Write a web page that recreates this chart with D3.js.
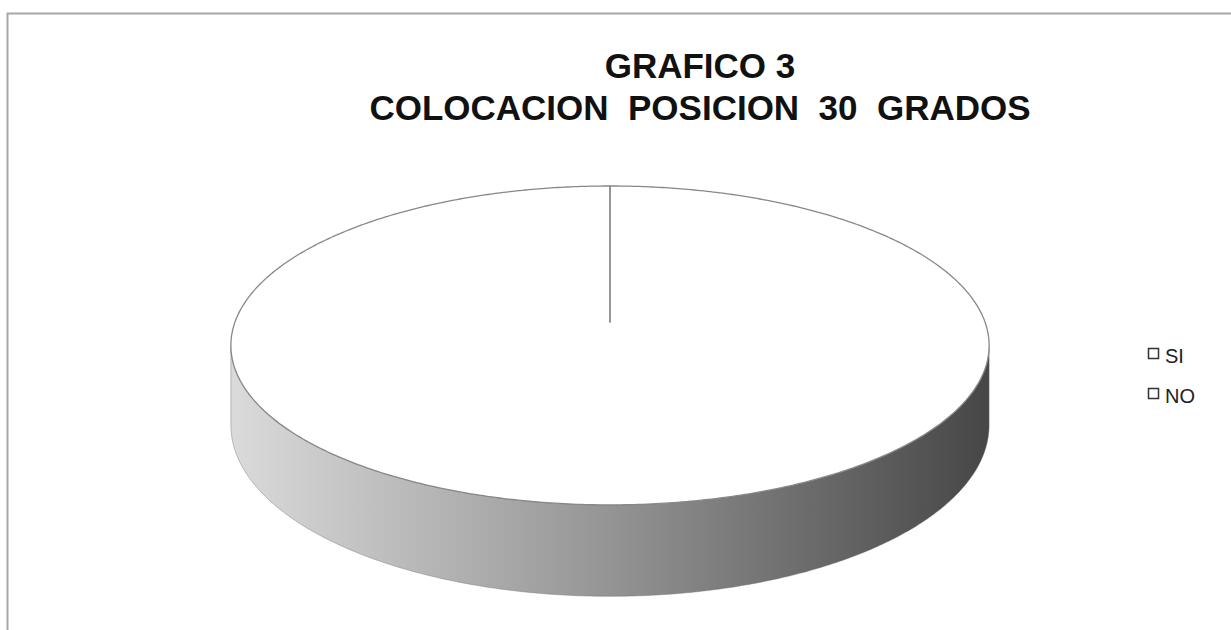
<!DOCTYPE html>
<html lang="es">
<head>
    <meta charset="UTF-8" />
    <title>Grafico 3</title>
    <script src="https://d3js.org/d3.v7.min.js"></script>
    <style>
        body {
            margin: 0;
            background: #fff;
            font-family: "Liberation Sans", Arial, sans-serif;
        }
        svg {
            display: block;
        }
    </style>
</head>
<body>
    <svg id="chart" width="1231" height="630"></svg>

    <script>
        // data
        const categories = ["SI", "NO"];
        const values = [100, 0];
        const titleLines = ["GRAFICO 3", "COLOCACION  POSICION  30  GRADOS"];

        const width = 1231;
        const height = 630;

        const svg = d3.select("#chart");

        // frame of the chart area
        svg.append("rect")
            .attr("x", 7.5)
            .attr("y", 13.5)
            .attr("width", width + 20)
            .attr("height", height + 20)
            .attr("fill", "#fff")
            .attr("stroke", "#a8a8a8")
            .attr("stroke-width", 2);

        // title
        svg.append("g")
            .selectAll("text")
            .data(titleLines)
            .enter()
            .append("text")
            .attr("x", 700)
            .attr("y", (d, i) => 78 + i * 42)
            .attr("text-anchor", "middle")
            .attr("font-size", "35px")
            .attr("font-weight", "bold")
            .attr("fill", "#111")
            .style("white-space", "pre")
            .text(d => d);

        // 3d pie, seen in perspective
        const cx = 610, cy = 322;      // centre of the pie top
        const A = 375, B = 156;        // horizontal / depth radii
        const p = 0.147;               // perspective strength
        const depth = 78;              // thickness of the disc

        function proj(a, r, dz) {
            const u = r * Math.sin(a);
            const w = -r * Math.cos(a);
            const s = 1 / (1 - p * w);
            return [cx + A * u * s, cy + B * w * s + depth * s * dz];
        }

        const pie = d3.pie().sort(null).value(d => d);
        const arcs = pie(values);

        const line = d3.line();

        function sampleAngles(a0, a1) {
            const n = Math.max(2, Math.ceil(Math.abs(a1 - a0) / 0.01));
            return d3.range(n + 1).map(i => a0 + (a1 - a0) * i / n);
        }

        // side gradient
        const defs = svg.append("defs");
        const grad = defs.append("linearGradient")
            .attr("id", "side")
            .attr("gradientUnits", "userSpaceOnUse")
            .attr("x1", proj(3 * Math.PI / 2, 1, 0)[0])
            .attr("x2", proj(Math.PI / 2, 1, 0)[0])
            .attr("y1", 0)
            .attr("y2", 0);
        grad.append("stop").attr("offset", "0%").attr("stop-color", "#dadada");
        grad.append("stop").attr("offset", "50%").attr("stop-color", "#949494");
        grad.append("stop").attr("offset", "100%").attr("stop-color", "#474747");

        // visible front part of the rim
        const frontStart = Math.acos(-p);
        const frontEnd = 2 * Math.PI - Math.acos(-p);

        const sideG = svg.append("g");
        arcs.filter(d => d.endAngle > d.startAngle).forEach(d => {
            const a0 = Math.max(d.startAngle, frontStart);
            const a1 = Math.min(d.endAngle, frontEnd);
            if (a1 <= a0) return;
            const angs = sampleAngles(a0, a1);
            const pts = angs.map(a => proj(a, 1, 0))
                .concat(angs.slice().reverse().map(a => proj(a, 1, 1)));
            sideG.append("path")
                .attr("d", line(pts) + "Z")
                .attr("fill", "url(#side)")
                .attr("stroke", "#6a6a6a")
                .attr("stroke-width", 0.4);
        });

        // top faces of the slices
        svg.append("g")
            .selectAll("path")
            .data(arcs)
            .enter()
            .append("path")
            .attr("d", d => {
                const pts = [proj(0, 0, 0)]
                    .concat(sampleAngles(d.startAngle, d.endAngle).map(a => proj(a, 1, 0)));
                return line(pts) + "Z";
            })
            .attr("fill", "#fff")
            .attr("stroke", "#888")
            .attr("stroke-width", 1.3)
            .attr("stroke-linejoin", "round");

        // legend
        const legend = svg.append("g")
            .attr("transform", "translate(1148, 348)");

        const item = legend.selectAll("g")
            .data(categories)
            .enter()
            .append("g")
            .attr("transform", (d, i) => `translate(0, ${i * 40})`);

        item.append("rect")
            .attr("x", 0.5)
            .attr("y", 0.5)
            .attr("width", 10)
            .attr("height", 10)
            .attr("fill", "#fff")
            .attr("stroke", "#333")
            .attr("stroke-width", 1.5);

        item.append("text")
            .attr("x", 17)
            .attr("y", 15)
            .attr("font-size", "20px")
            .attr("fill", "#222")
            .text(d => d);
    </script>
</body>
</html>
